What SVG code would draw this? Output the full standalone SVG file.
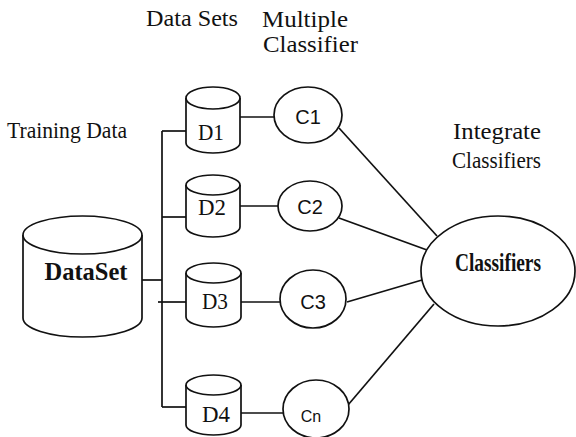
<svg xmlns="http://www.w3.org/2000/svg" width="576" height="437" viewBox="0 0 576 437">
<style>
  .shape { fill: #fff; stroke: #111; stroke-width: 1.7; }
  .conn line { stroke: #111; stroke-width: 1.7; }
  .serif { font-family: "Liberation Serif", "Times New Roman", serif; fill: #111; font-size: 23px; }
  .dl { font-size: 24px; }
  .bold { font-weight: bold; font-size: 25px; }
  .sans { font-family: "Liberation Sans", Arial, sans-serif; fill: #111; font-size: 20px; text-anchor: middle; }
  .mid { text-anchor: middle; }
</style>
<rect width="576" height="437" fill="#fff"/>

<g id="labels">
  <text class="serif" x="146" y="26" textLength="92" lengthAdjust="spacingAndGlyphs">Data Sets</text>
  <text class="serif" x="262" y="27" textLength="86" lengthAdjust="spacingAndGlyphs">Multiple</text>
  <text class="serif" x="263" y="52" textLength="95" lengthAdjust="spacingAndGlyphs">Classifier</text>
  <text class="serif" x="7" y="138" textLength="120" lengthAdjust="spacingAndGlyphs">Training Data</text>
  <text class="serif" x="453" y="139" textLength="88" lengthAdjust="spacingAndGlyphs">Integrate</text>
  <text class="serif" x="452" y="168" textLength="89" lengthAdjust="spacingAndGlyphs">Classifiers</text>
</g>

<g id="connectors" class="conn">
  <line x1="142" y1="280" x2="162" y2="280"/>
  <line x1="162" y1="131" x2="162" y2="407"/>
  <line x1="162" y1="131" x2="186" y2="131"/>
  <line x1="162" y1="217" x2="186" y2="217"/>
  <line x1="158" y1="302" x2="186" y2="302"/>
  <line x1="162" y1="407" x2="186" y2="407"/>
  <line x1="240" y1="117" x2="274" y2="117"/>
  <line x1="240" y1="206" x2="278" y2="206"/>
  <line x1="241" y1="302" x2="280" y2="302"/>
  <line x1="241" y1="413" x2="283" y2="413"/>
  <line x1="339" y1="128" x2="437" y2="236"/>
  <line x1="339" y1="218" x2="427" y2="250"/>
  <line x1="347" y1="302" x2="422" y2="280"/>
  <line x1="348" y1="405" x2="434" y2="304"/>
</g>

<g id="dataset">
  <path class="shape" d="M23,235 L23,318 A59.5,19 0 0 0 142,318 L142,235"/>
  <ellipse class="shape" cx="82.5" cy="235" rx="59.5" ry="19"/>
  <text class="serif bold mid" x="86" y="280" textLength="83" lengthAdjust="spacingAndGlyphs">DataSet</text>
</g>

<g id="d1">
  <path class="shape" d="M186,98 L186,143 A27,10 0 0 0 240,143 L240,98"/>
  <ellipse class="shape" cx="213" cy="98" rx="27" ry="11"/>
  <text class="serif dl mid" x="211" y="140" textLength="26" lengthAdjust="spacingAndGlyphs">D1</text>
</g>
<g id="d2">
  <path class="shape" d="M186,185 L186,227 A27,10 0 0 0 240,227 L240,185"/>
  <ellipse class="shape" cx="213" cy="185" rx="27" ry="10"/>
  <text class="serif dl mid" x="212" y="215" textLength="28" lengthAdjust="spacingAndGlyphs">D2</text>
</g>
<g id="d3">
  <path class="shape" d="M186,273 L186,317 A27.5,10 0 0 0 241,317 L241,273"/>
  <ellipse class="shape" cx="213.5" cy="273" rx="27.5" ry="10"/>
  <text class="serif dl mid" x="215" y="309" textLength="26" lengthAdjust="spacingAndGlyphs">D3</text>
</g>
<g id="d4">
  <path class="shape" d="M186,385 L186,425 A27.5,10 0 0 0 241,425 L241,385"/>
  <ellipse class="shape" cx="213.5" cy="385" rx="27.5" ry="10"/>
  <text class="serif dl mid" x="216" y="422" textLength="28" lengthAdjust="spacingAndGlyphs">D4</text>
</g>

<g id="c1">
  <ellipse class="shape" cx="308" cy="115" rx="34" ry="28"/>
  <text class="sans" x="308" y="124">C1</text>
</g>
<g id="c2">
  <ellipse class="shape" cx="310" cy="206" rx="32" ry="25"/>
  <text class="sans" x="310" y="214">C2</text>
</g>
<g id="c3">
  <ellipse class="shape" cx="313" cy="299" rx="33" ry="29"/>
  <text class="sans" x="313" y="309">C3</text>
</g>
<g id="cn">
  <ellipse class="shape" cx="316" cy="409" rx="33" ry="29"/>
  <text class="sans" x="311" y="422" style="font-size:16px">Cn</text>
</g>

<g id="classifiers">
  <ellipse class="shape" cx="498" cy="271" rx="77" ry="55"/>
  <text class="serif bold mid" x="498" y="271" textLength="86" lengthAdjust="spacingAndGlyphs">Classifiers</text>
</g>
</svg>
